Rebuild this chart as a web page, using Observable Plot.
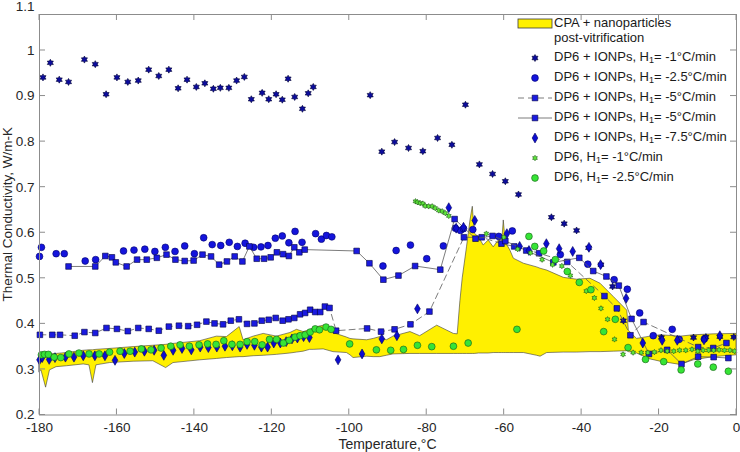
<!DOCTYPE html>
<html><head><meta charset="utf-8">
<script src="https://cdn.jsdelivr.net/npm/d3@7"></script>
<script src="https://cdn.jsdelivr.net/npm/@observablehq/plot@0.6"></script>
<style>
body{margin:0;background:#fff;}
#chart{width:740px;height:452px;}
svg text{font-family:"Liberation Sans",Arial,sans-serif;}
</style></head><body><div id="chart"></div>
<script>
// ---- data: [temperature °C, thermal conductivity W/m-K] ----
const ionp1 = [[-179.1,0.941],[-177.2,0.973],[-174.9,0.936],[-172.5,0.931],[-168.4,0.980],[-165.6,0.970],[-162.8,0.904],[-160.0,0.941],[-157.2,0.931],[-154.5,0.934],[-151.8,0.958],[-149.2,0.944],[-146.6,0.958],[-144.2,0.917],[-141.9,0.936],[-139.5,0.920],[-137.3,0.928],[-135.1,0.916],[-133.3,0.918],[-131.1,0.918],[-129.1,0.934],[-127.1,0.942],[-125.3,0.893],[-122.5,0.907],[-120.8,0.893],[-118.9,0.904],[-117.3,0.892],[-115.8,0.938],[-114.1,0.898],[-112.1,0.872],[-110.6,0.906],[-109.3,0.920],[-94.6,0.902],[-91.6,0.778],[-88.3,0.799],[-84.7,0.786],[-81.0,0.779],[-77.2,0.808],[-73.5,0.793],[-70.0,0.881],[-66.4,0.750],[-63.0,0.729],[-59.7,0.713],[-56.3,0.684],[-47.8,0.634],[-44.5,0.620],[-41.3,0.605],[-38.2,0.567],[-35.0,0.530],[-32.0,0.482],[-29.2,0.407],[-19.4,0.370],[-11.1,0.370],[-7.9,0.371],[-4.3,0.372],[-0.7,0.371]];
const ionp25 = [[-180,0.548],[-179.5,0.568],[-175.7,0.554],[-173.6,0.554],[-168.2,0.538],[-165.5,0.541],[-158.3,0.560],[-155.6,0.562],[-152.8,0.564],[-150.2,0.559],[-147.5,0.568],[-145.0,0.559],[-142.5,0.571],[-140.0,0.554],[-137.6,0.589],[-135.4,0.574],[-133.2,0.572],[-131.0,0.579],[-128.9,0.570],[-126.9,0.577],[-124.7,0.568],[-122.8,0.569],[-121.0,0.572],[-119.1,0.588],[-117.3,0.593],[-115.6,0.578],[-114.0,0.603],[-112.2,0.579],[-108.7,0.598],[-107.2,0.586],[-105.9,0.594],[-104.5,0.591],[-91.3,0.527],[-87.9,0.561],[-84.2,0.573],[-80.0,0.543],[-75.7,0.571],[-72.6,0.610],[-71.3,0.605],[-70.5,0.609],[-68.1,0.607],[-61.4,0.592],[-57.9,0.604],[-45.5,0.552],[-38.4,0.531],[-31.6,0.497],[-28.2,0.476],[-25.0,0.424],[-21.5,0.374],[-16.6,0.388],[-14.8,0.366],[-8.3,0.367]];
const ionp5Dash = [[-179.9,0.376],[-176.7,0.376],[-174.7,0.376],[-170.9,0.374],[-168.4,0.382],[-165.6,0.380],[-162.7,0.391],[-160.0,0.389],[-157.2,0.384],[-154.5,0.391],[-151.8,0.389],[-149.2,0.385],[-146.6,0.394],[-144.0,0.396],[-141.6,0.395],[-139.3,0.398],[-136.9,0.405],[-134.8,0.401],[-132.6,0.399],[-130.6,0.407],[-128.5,0.410],[-126.4,0.400],[-124.5,0.401],[-122.6,0.407],[-120.8,0.409],[-119.0,0.413],[-117.2,0.407],[-115.7,0.410],[-114.2,0.413],[-112.7,0.421],[-111.4,0.424],[-110.1,0.431],[-108.8,0.426],[-107.5,0.426],[-106.3,0.438],[-105.1,0.435],[-103.4,0.385],[-95.4,0.390],[-91.8,0.383],[-88.3,0.388],[-84.2,0.399],[-79.3,0.427],[-70.4,0.590],[-65.8,0.590],[-60.7,0.576],[-57.4,0.570],[-51.0,0.555],[-43.7,0.536],[-34.1,0.461],[-30.9,0.434],[-27.4,0.375],[-24.0,0.404],[-9.9,0.349],[-6.0,0.347],[-2.6,0.358]];
const ionp5Solid = [[-172.5,0.526],[-165.6,0.526],[-163.0,0.549],[-161.3,0.546],[-160.3,0.535],[-157.5,0.526],[-154.8,0.541],[-152.3,0.541],[-149.7,0.545],[-147.2,0.552],[-144.9,0.541],[-142.5,0.538],[-140.2,0.539],[-137.9,0.552],[-135.7,0.548],[-133.6,0.530],[-131.6,0.537],[-129.6,0.548],[-127.6,0.537],[-125.8,0.570],[-123.9,0.543],[-122.0,0.543],[-120.3,0.546],[-118.7,0.557],[-117.1,0.553],[-115.6,0.549],[-114.2,0.568],[-112.9,0.557],[-111.5,0.563],[-98.1,0.560],[-94.8,0.533],[-91.2,0.497],[-87.3,0.506],[-83.0,0.527],[-76.5,0.519],[-72.8,0.630],[-67.4,0.587],[-63.0,0.593],[-59.7,0.582],[-54.3,0.561],[-47.3,0.535],[-40.6,0.545],[-37.0,0.516],[-33.6,0.504],[-30.4,0.484],[-27.1,0.411],[-22.6,0.334],[-17.9,0.343],[-14.2,0.312],[-9.9,0.328],[-5.9,0.327],[-2.1,0.325]];
const ionp75 = [[-180,0.321],[-179.3,0.326],[-177.5,0.322],[-176.0,0.326],[-173.3,0.327],[-171.1,0.327],[-168.7,0.330],[-165.7,0.330],[-163.1,0.330],[-160.5,0.320],[-158.1,0.335],[-155.4,0.338],[-152.9,0.340],[-150.4,0.342],[-147.9,0.331],[-145.5,0.342],[-143.2,0.346],[-140.8,0.343],[-138.5,0.349],[-136.4,0.348],[-134.2,0.349],[-132.1,0.351],[-130.2,0.352],[-128.2,0.349],[-126.4,0.355],[-124.5,0.353],[-122.7,0.349],[-121.1,0.349],[-119.5,0.358],[-117.8,0.358],[-116.3,0.361],[-114.8,0.367],[-113.4,0.369],[-111.8,0.372],[-110.3,0.370],[-102.9,0.321],[-96.7,0.334],[-91.6,0.367],[-87.7,0.374],[-82.4,0.433],[-74.3,0.655],[-72.4,0.610],[-70.5,0.612],[-67.6,0.627],[-59.3,0.598],[-56.0,0.570],[-53.6,0.561],[-49.1,0.576],[-45.8,0.565],[-42.3,0.559],[-38.1,0.568],[-35.1,0.530],[-28.5,0.456],[-24.2,0.358],[-19.2,0.364],[-15.3,0.364],[-8.4,0.365],[-4.3,0.374]];
const dp61 = [[-82.9,0.669],[-82.4,0.667],[-81.7,0.665],[-81.0,0.664],[-80.4,0.659],[-79.5,0.658],[-78.6,0.658],[-77.8,0.654],[-76.9,0.649],[-76.0,0.647],[-75.2,0.643],[-74.3,0.637],[-64.6,0.598],[-60.1,0.590],[-56.5,0.564],[-53.2,0.556],[-50.2,0.541],[-47.5,0.530],[-45.1,0.527],[-42.9,0.506],[-38.8,0.472],[-36.7,0.457],[-35.0,0.434],[-33.3,0.410],[-31.5,0.366],[-29.3,0.333],[-26.7,0.337],[-24.6,0.337],[-22.9,0.337],[-21.2,0.338],[-19.5,0.342],[-17.9,0.340],[-16.2,0.340],[-14.7,0.342],[-13.1,0.342],[-11.5,0.344],[-10.0,0.340],[-8.6,0.342],[-7.2,0.342],[-5.9,0.342],[-4.5,0.343],[-3.1,0.342],[-1.7,0.342],[-0.5,0.340]];
const dp625 = [[-179.5,0.332],[-178.7,0.333],[-177.7,0.333],[-176.2,0.327],[-174.5,0.326],[-172.4,0.334],[-169.8,0.336],[-167.2,0.334],[-164.6,0.334],[-161.9,0.338],[-159.2,0.340],[-156.6,0.340],[-153.7,0.345],[-151.2,0.343],[-148.6,0.347],[-146.1,0.351],[-143.7,0.354],[-141.3,0.351],[-138.8,0.354],[-136.6,0.356],[-134.4,0.355],[-132.4,0.363],[-130.3,0.355],[-128.2,0.355],[-126.4,0.361],[-124.4,0.361],[-122.5,0.354],[-120.6,0.366],[-118.8,0.366],[-117.0,0.358],[-115.5,0.364],[-114.0,0.371],[-112.7,0.374],[-111.4,0.376],[-110.1,0.382],[-108.8,0.389],[-107.7,0.387],[-106.0,0.393],[-104.7,0.388],[-99.9,0.356],[-93.0,0.343],[-89.3,0.342],[-86.0,0.344],[-82.4,0.353],[-78.7,0.350],[-73.1,0.351],[-69.3,0.358],[-56.7,0.388],[-53.6,0.592],[-52.1,0.570],[-49.8,0.560],[-46.8,0.541],[-43.7,0.515],[-40.6,0.491],[-37.6,0.475],[-34.3,0.383],[-31.3,0.410],[-28.0,0.348],[-23.5,0.322],[-18.8,0.317],[-14.3,0.299],[-10.0,0.312],[-6.0,0.305],[-2.1,0.296]];
// CPA + nanoparticles post-vitrification band
const bandT    = [-180,-179.5,-178.3,-177.3,-175.6,-172.9,-168.6,-167.1,-166.2,-165.3,-161.8,-155.7,-150.6,-147.3,-145.4,-138.5,-134.2,-131.6,-128.3,-127.3,-124.7,-122.1,-118.7,-115.2,-113.5,-111.8,-110.1,-109.2,-106.6,-104.1,-100.6,-99.7,-98.9,-95.4,-93.7,-92.0,-90.3,-88.6,-84.2,-81.7,-77.3,-73.0,-72.0,-71.3,-70.7,-69.6,-68.7,-68.1,-67.6,-66.5,-65.3,-64.0,-62.7,-61.4,-60.5,-60.1,-59.6,-58.4,-57.5,-54.9,-51.5,-50.6,-48.9,-44.6,-41.2,-37.7,-35.1,-31.7,-28.2,-27.8,-25.7,-22.2,-19.6,-14.5,-11.0,-5.9,0];
const bandLow  = [0.294,0.298,0.260,0.298,0.305,0.307,0.311,0.309,0.270,0.309,0.314,0.317,0.318,0.303,0.314,0.320,0.323,0.325,0.327,0.327,0.329,0.330,0.332,0.335,0.337,0.339,0.343,0.343,0.344,0.338,0.336,0.331,0.325,0.328,0.327,0.327,0.330,0.333,0.334,0.334,0.334,0.334,0.334,0.334,0.334,0.334,0.334,0.334,0.334,0.335,0.335,0.335,0.336,0.336,0.336,0.336,0.336,0.336,0.336,0.336,0.330,0.328,0.336,0.337,0.337,0.338,0.338,0.339,0.340,0.338,0.335,0.322,0.317,0.310,0.320,0.327,0.331];
const bandHigh = [0.331,0.332,0.333,0.333,0.334,0.336,0.341,0.342,0.342,0.343,0.345,0.349,0.352,0.354,0.356,0.362,0.372,0.371,0.393,0.364,0.372,0.378,0.372,0.380,0.387,0.382,0.386,0.391,0.396,0.380,0.370,0.367,0.366,0.364,0.367,0.371,0.364,0.372,0.382,0.373,0.396,0.378,0.377,0.450,0.500,0.568,0.627,0.657,0.598,0.590,0.572,0.583,0.568,0.583,0.579,0.627,0.579,0.561,0.543,0.532,0.524,0.521,0.517,0.501,0.497,0.499,0.488,0.459,0.429,0.385,0.367,0.372,0.375,0.372,0.375,0.377,0.378];
const xTicks = [-180,-160,-140,-120,-100,-80,-60,-40,-20,0];
const yTicks = [0.2,0.3,0.4,0.5,0.6,0.7,0.8,0.9,1.0];
const yTopTick = [1.1];
const legendLabels = [
  ["CPA + nanoparticles","post-vitrification"],
  ["DP6 + IONPs, H","1","= -1°C/min"],
  ["DP6 + IONPs, H","1","= -2.5°C/min"],
  ["DP6 + IONPs, H","1","= -5°C/min"],
  ["DP6 + IONPs, H","1","= -5°C/min"],
  ["DP6 + IONPs, H","1","= -7.5°C/min"],
  ["DP6, H","1","= -1°C/min"],
  ["DP6, H","1","= -2.5°C/min"]
];

// ---- styles ----
const YELLOW = "#fff000";
const hexagram = {draw(ctx, size){
  const R = Math.sqrt(size/Math.PI)*1.25, r = R/Math.sqrt(3);
  for (let i=0;i<12;i++){const a=-Math.PI/2+i*Math.PI/6, q=i%2?r:R; const px=q*Math.cos(a), py=q*Math.sin(a); i?ctx.lineTo(px,py):ctx.moveTo(px,py);}
  ctx.closePath();
}};
const series = [
  {data: ionp1, symbol: hexagram, r: 2.8, fill: "#0c0c9c", stroke: "#000033"},
  {data: ionp25, symbol: d3.symbolCircle, r: 3.4, fill: "#1414dc", stroke: "#00006a"},
  {data: ionp5Dash, symbol: d3.symbolSquare, r: 3.2, fill: "#1a1ae0", stroke: "#000040", line: "6,4"},
  {data: ionp5Solid, symbol: d3.symbolSquare, r: 3.2, fill: "#1a1ae0", stroke: "#000040", line: "none"},
  {data: ionp75, symbol: d3.symbolDiamond, r: 3.0, fill: "#0c0cd0", stroke: "#00005a"},
  {data: dp61, symbol: hexagram, r: 2.2, fill: "#5ee83a", stroke: "#1d5a14"},
  {data: dp625, symbol: d3.symbolCircle, r: 3.4, fill: "#36e436", stroke: "#175a17"}
];

const marks = [
  Plot.areaY(bandT, {x: bandT, y1: bandLow, y2: bandHigh, fill: YELLOW, stroke: "#3a3a3a", strokeWidth: 0.6}),
];
for (const s of series) {
  if (s.line) marks.push(Plot.line(s.data, {x: d=>d[0], y: d=>d[1], stroke: "#5a5a5a", strokeWidth: 0.8, strokeDasharray: s.line === "none" ? null : s.line}));
  marks.push(Plot.dot(s.data, {x: d=>d[0], y: d=>d[1], symbol: s.symbol, r: s.r, fill: s.fill, stroke: s.stroke, strokeWidth: 0.6}));
}
marks.push(Plot.frame({stroke: "#8c8c8c", strokeWidth: 1}));
marks.push(Plot.axisX({ticks: xTicks, tickSize: 0, tickPadding: 7, fontSize: 13.5, label: null, tickFormat: d=>String(d)}));
marks.push(Plot.axisY({ticks: yTicks, tickSize: 0, tickPadding: 5, fontSize: 13.5, label: null, tickFormat: d3.format("~g")}));
marks.push(Plot.axisY({ticks: yTopTick, tickSize: 0, tickPadding: 5, fontSize: 13.5, label: null, dy: 2, tickFormat: d3.format("~g")}));

const chart = Plot.plot({
  width: 740, height: 452,
  marginLeft: 39, marginRight: 4, marginTop: 14, marginBottom: 37.5,
  x: {domain: [-180, 0]},
  y: {domain: [0.2, 1.079]},
  style: {fontFamily: "'Liberation Sans', Arial, sans-serif", color: "#262626", background: "#fff"},
  marks
});
document.getElementById("chart").append(chart);

// ---- inward ticks, axis titles, legend ----
const svg = d3.select(chart);
const xs = chart.scale("x"), ys = chart.scale("y");
const [x0, x1] = [xs.apply(-180), xs.apply(0)];
const [yb, yt] = [ys.apply(0.2), ys.apply(1.079)];
const tg = svg.append("g").attr("stroke", "#8c8c8c").attr("stroke-width", 1);
for (const v of xTicks) { const X = xs.apply(v);
  tg.append("line").attr("x1", X).attr("x2", X).attr("y1", yb).attr("y2", yb - 6);
  tg.append("line").attr("x1", X).attr("x2", X).attr("y1", yt).attr("y2", yt + 6); }
for (const v of yTicks) { const Y = ys.apply(v);
  tg.append("line").attr("y1", Y).attr("y2", Y).attr("x1", x0).attr("x2", x0 + 6);
  tg.append("line").attr("y1", Y).attr("y2", Y).attr("x1", x1).attr("x2", x1 - 6); }
svg.append("text").attr("x", (x0 + x1) / 2).attr("y", 449).attr("text-anchor", "middle")
  .attr("font-size", 14).attr("fill", "#262626").text("Temperature,°C");
svg.append("text").attr("transform", `translate(11.5,${(yb + yt) / 2}) rotate(-90)`).attr("text-anchor", "middle")
  .attr("font-size", 13.5).attr("fill", "#262626").text("Thermal Conductivity, W/m-K");

const lg = svg.append("g").attr("font-size", 13).attr("fill", "#1a1a1a").attr("text-anchor", "start");
lg.append("rect").attr("x", 518).attr("y", 19).attr("width", 34).attr("height", 9)
  .attr("fill", YELLOW).attr("stroke", "#3a3a3a").attr("stroke-width", 0.8);
lg.append("text").attr("x", 554).attr("y", 24).attr("dominant-baseline", "middle").text(legendLabels[0][0]);
lg.append("text").attr("x", 554).attr("y", 39).attr("dominant-baseline", "middle").text(legendLabels[0][1]);
series.forEach((s, i) => {
  const Y = 58 + i * 20;
  if (s.line) lg.append("line").attr("x1", 518).attr("x2", 552).attr("y1", Y).attr("y2", Y)
    .attr("stroke", "#5a5a5a").attr("stroke-width", 0.8).attr("stroke-dasharray", s.line === "none" ? null : "6,4");
  lg.append("path").attr("transform", `translate(535,${Y})`)
    .attr("d", d3.symbol(s.symbol, Math.PI * s.r * s.r)())
    .attr("fill", s.fill).attr("stroke", s.stroke).attr("stroke-width", 0.6);
  const [a, sub, b] = legendLabels[i + 1];
  const t = lg.append("text").attr("x", 554).attr("y", Y).attr("dominant-baseline", "middle");
  t.append("tspan").text(a);
  t.append("tspan").attr("font-size", 9).attr("dy", 3).text(sub);
  t.append("tspan").attr("dy", -3).text(b);
});
</script></body></html>
